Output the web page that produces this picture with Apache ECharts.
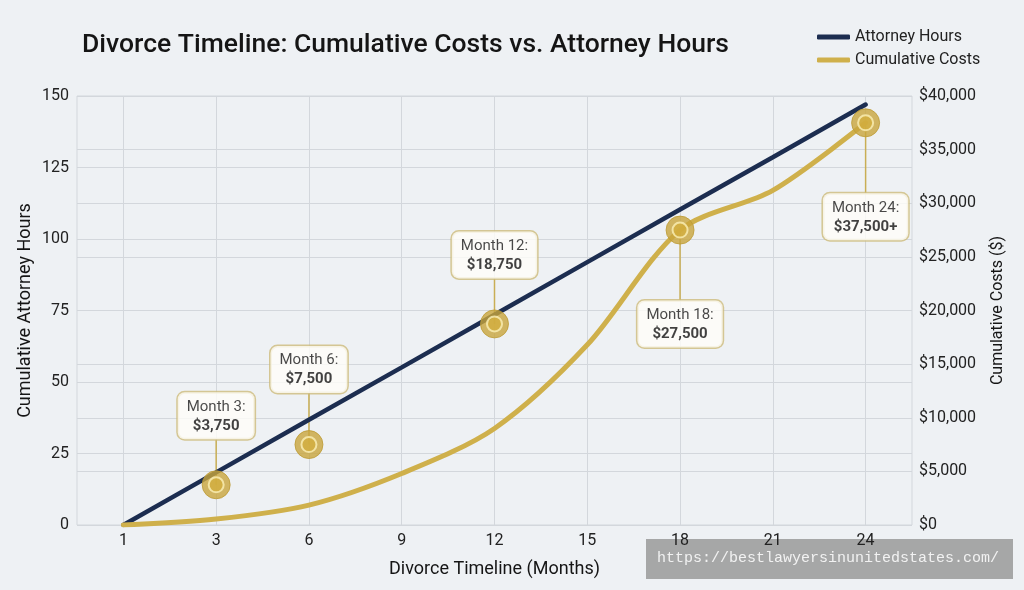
<!DOCTYPE html>
<html>
<head>
<meta charset="utf-8">
<script src="https://cdn.jsdelivr.net/npm/echarts@6/dist/echarts.min.js"></script>
<style>
  html, body { margin: 0; padding: 0; background: #eef1f4; }
  #chart { width: 1024px; height: 590px; }
</style>
</head>
<body>
<div id="chart"></div>
<script>
  // x categories (months)
  const months = ['1', '3', '6', '9', '12', '15', '18', '21', '24'];
  // cumulative attorney hours (left axis)
  const attorneyHours = [0, 18.4, 36.8, 55.1, 73.5, 91.9, 110.3, 128.6, 147];
  // cumulative costs curve (right axis)
  const cumulativeCosts = [0, 550, 1850, 4800, 9000, 16800, 27500, 31200, 37500];
  // highlighted milestones
  const milestoneMonths = ['3', '6', '12', '18', '24'];
  const milestoneCosts = [3750, 7500, 18750, 27500, 37500];
  const milestoneText = ['$3,750', '$7,500', '$18,750', '$27,500', '$37,500+'];

  const navy = '#1c2d50';
  const gold = '#cfb04b';
  const gridColor = '#d3d7dc';

  let myChart = echarts.init(document.getElementById('chart'));

  // label offsets (px) from marker centre: negative = above
  const stemLen = [-45, -51, -45, 70, 70];
  const milestonePts = milestoneMonths.map((m, i) => [months.indexOf(m), milestoneCosts[i]]);
  const milestoneData = milestonePts.map((v, i) => ({
    value: v,
    label: stemLen[i] > 0
      ? { position: 'bottom', distance: stemLen[i] - 14 }
      : { position: 'top', distance: -stemLen[i] - 14 }
  }));

  let option = {
    backgroundColor: '#eef1f4',
    animation: false,
    textStyle: { fontFamily: 'Roboto, sans-serif' },
    title: {
      text: 'Divorce Timeline: Cumulative Costs vs. Attorney Hours',
      left: 77,
      top: 27,
      textStyle: { fontSize: 26.5, fontWeight: 500, color: '#151515', fontFamily: 'Roboto' }
    },
    legend: {
      data: ['Attorney Hours', 'Cumulative Costs'],
      orient: 'vertical',
      left: 812,
      top: 24,
      itemWidth: 33,
      itemHeight: 5,
      itemGap: 7,
      icon: 'roundRect',
      textStyle: { fontSize: 16, color: '#222' }
    },
    grid: {
      left: 77,
      right: 112,
      top: 96,
      bottom: 65,
      show: true,
      borderColor: gridColor,
      borderWidth: 1
    },
    xAxis: {
      type: 'category',
      data: months,
      boundaryGap: true,
      axisLine: { show: false },
      axisTick: { show: false },
      axisLabel: { fontSize: 16, color: '#222', margin: 8 },
      splitLine: { show: false },
      name: 'Divorce Timeline (Months)',
      nameLocation: 'middle',
      nameGap: 35,
      nameTextStyle: { fontSize: 18, color: '#151515' }
    },
    yAxis: [
      {
        type: 'value',
        min: 0,
        max: 150,
        interval: 25,
        position: 'left',
        axisLine: { show: false },
        axisTick: { show: false },
        axisLabel: { fontSize: 16, color: '#222', margin: 8 },
        splitLine: { lineStyle: { color: gridColor, width: 1 } },
        name: 'Cumulative Attorney Hours',
        nameLocation: 'middle',
        nameGap: 43,
        nameMoveOverlap: false,
        nameTextStyle: { fontSize: 18, color: '#151515' }
      },
      {
        type: 'value',
        min: 0,
        max: 40000,
        interval: 5000,
        position: 'right',
        axisLine: { show: false },
        axisTick: { show: false },
        axisLabel: {
          fontSize: 16,
          color: '#222',
          margin: 7,
          formatter: v => '$' + v.toLocaleString('en-US')
        },
        splitLine: { lineStyle: { color: gridColor, width: 1 } },
        name: 'Cumulative Costs ($)',
        nameLocation: 'middle',
        nameGap: 78,
        nameMoveOverlap: false,
        nameTextStyle: { fontSize: 16, color: '#151515' }
      }
    ],
    series: [
      {
        // vertical grid lines at each month
        name: 'grid',
        type: 'line',
        data: [],
        z: 1,
        silent: true,
        markLine: {
          silent: true,
          z: 1,
          symbol: 'none',
          label: { show: false },
          lineStyle: { color: gridColor, width: 1, type: 'solid' },
          data: months.map(m => ({ xAxis: m }))
        }
      },
      {
        // connector stems between markers and callouts
        name: 'stems',
        type: 'custom',
        yAxisIndex: 1,
        z: 2,
        silent: true,
        data: milestonePts,
        renderItem: function (params, api) {
          const p = api.coord([api.value(0), api.value(1)]);
          return {
            type: 'line',
            shape: { x1: p[0], y1: p[1], x2: p[0], y2: p[1] + stemLen[params.dataIndex] },
            style: { stroke: '#c9ae55', lineWidth: 1.5 }
          };
        }
      },
      {
        name: 'Attorney Hours',
        type: 'line',
        yAxisIndex: 0,
        data: attorneyHours,
        showSymbol: false,
        symbol: 'none',
        z: 3,
        color: navy,
        lineStyle: { color: navy, width: 4.5, cap: 'round' }
      },
      {
        name: 'Cumulative Costs',
        type: 'line',
        yAxisIndex: 1,
        data: cumulativeCosts,
        smooth: 0.3,
        showSymbol: false,
        symbol: 'none',
        z: 4,
        color: gold,
        lineStyle: { color: gold, width: 5, cap: 'round' }
      },
      {
        name: 'milestones',
        type: 'scatter',
        yAxisIndex: 1,
        data: milestoneData,
        symbolSize: 28,
        z: 5,
        itemStyle: { color: '#c8a53c', borderColor: '#bd9b36', borderWidth: 1 },
        label: {
          show: true,
          formatter: p => '{a|Month ' + milestoneMonths[p.dataIndex] + ':}\n{b|' + milestoneText[p.dataIndex] + '}',
          backgroundColor: '#fffef9',
          borderColor: '#cdbc7c',
          borderWidth: 1.5,
          borderRadius: 7,
          padding: [5, 9, 4, 9],
          rich: {
            a: { fontSize: 15, color: '#1a1a1a', lineHeight: 19, align: 'center' },
            b: { fontSize: 15, fontWeight: 'bold', color: '#111', lineHeight: 19, align: 'center' }
          }
        }
      },
      {
        name: 'milestonesInner',
        type: 'scatter',
        yAxisIndex: 1,
        data: milestonePts,
        symbolSize: 15,
        z: 6,
        silent: true,
        itemStyle: { color: '#d2ae3e', borderColor: '#fbf0b8', borderWidth: 2 }
      }
    ],
    graphic: [
      {
        type: 'rect',
        left: 646,
        top: 539,
        z: -10,
        shape: { width: 367, height: 40 },
        style: { fill: 'rgba(150,150,150,0.82)' }
      },
      {
        type: 'text',
        left: 657,
        top: 551,
        z: -9,
        style: {
          text: 'https://bestlawyersinunitedstates.com/',
          fill: '#f2f2f2',
          font: '15px "Liberation Mono", "DejaVu Sans Mono", monospace'
        }
      }
    ]
  };
  myChart.setOption(option);
</script>
</body>
</html>
